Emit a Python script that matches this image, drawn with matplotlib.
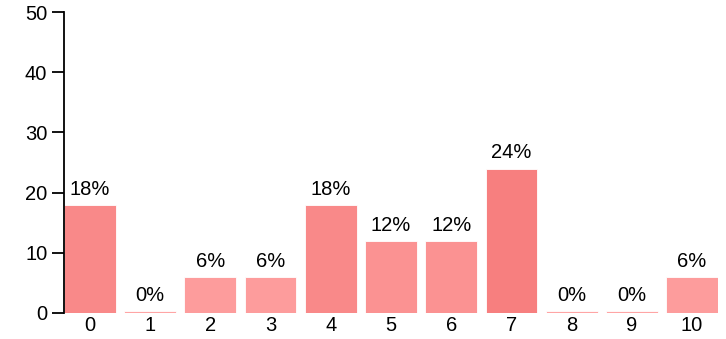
import numpy as np
import matplotlib
matplotlib.use('Agg')
import matplotlib.pyplot as plt
from matplotlib.colors import to_rgb

plt.rcParams['font.family'] = ['Liberation Sans', 'DejaVu Sans']

# 数据
categories = [0, 1, 2, 3, 4, 5, 6, 7, 8, 9, 10]
percents = [18, 0, 6, 6, 18, 12, 12, 24, 0, 0, 6]
y_ticks = [0, 10, 20, 30, 40, 50]

fig = plt.figure(figsize=(7.26, 3.39), dpi=100)
ax = fig.add_axes([0.0882, 0.0767, 0.9008, 0.8879])

# 颜色随数值加深
light = np.array(to_rgb('#FFA5A5'))
dark = np.array(to_rgb('#F77F7F'))
vals = np.array(percents, dtype=float)
t = vals / vals.max()
colors = [tuple(light + (dark - light) * ti) for ti in t]

x = np.arange(len(categories))
heights = np.maximum(vals, 0.35)  # 0% 也画一条细线
ax.bar(x, heights, width=0.86, color=colors, edgecolor='white', linewidth=0.6)

for xi, v, h in zip(x, percents, heights):
    ax.text(xi, h + 1.0, f'{v}%', ha='center', va='bottom', fontsize=14.5)

ax.set_xlim(-0.43, 10.43)
ax.set_ylim(0, 50)
ax.set_yticks(y_ticks)
ax.set_xticks(x)
ax.set_xticklabels([str(c) for c in categories])
ax.tick_params(axis='y', length=9, width=1.3, labelsize=14.5, pad=3)
ax.tick_params(axis='x', length=0, labelsize=14.5, pad=2)

for s in ['top', 'right', 'bottom']:
    ax.spines[s].set_visible(False)
ax.spines['left'].set_linewidth(1.3)

plt.savefig('out.png', dpi=100)
plt.close()
